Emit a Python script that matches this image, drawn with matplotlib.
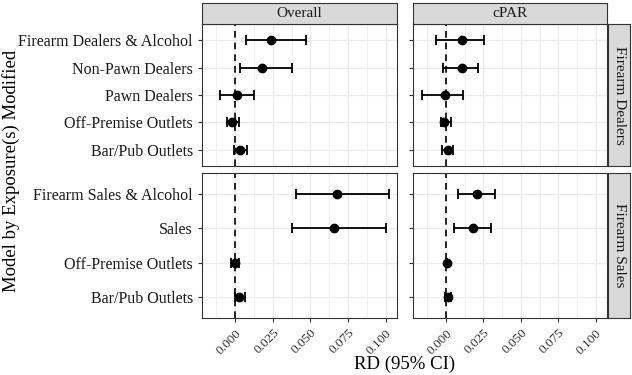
import matplotlib.pyplot as plt
import numpy as np

plt.rcParams['font.family'] = ['Liberation Serif', 'DejaVu Serif']

# rows, top panel (Firearm Dealers) listed top to bottom
dealer_labels = ["Firearm Dealers & Alcohol", "Non-Pawn Dealers", "Pawn Dealers",
                 "Off-Premise Outlets", "Bar/Pub Outlets"]
sales_labels = ["Firearm Sales & Alcohol", "Sales", "Off-Premise Outlets", "Bar/Pub Outlets"]

# Overall estimates
dealer_overall_rd = [0.0235, 0.018, 0.0012, -0.002, 0.0035]
dealer_overall_lo = [0.0075, 0.003, -0.0103, -0.0055, -0.0008]
dealer_overall_hi = [0.047, 0.0375, 0.0123, 0.0023, 0.0079]
sales_overall_rd = [0.0675, 0.0659, 0.0, 0.0025]
sales_overall_lo = [0.0403, 0.0381, -0.0025, 0.0]
sales_overall_hi = [0.1019, 0.1003, 0.0028, 0.0067]

# cPAR estimates
dealer_cpar_rd = [0.0105, 0.0105, -0.0007, -0.0011, 0.0016]
dealer_cpar_lo = [-0.0067, -0.0022, -0.016, -0.0035, -0.0027]
dealer_cpar_hi = [0.0253, 0.0216, 0.0111, 0.0033, 0.0049]
sales_cpar_rd = [0.0204, 0.0182, 0.0004, 0.0016]
sales_cpar_lo = [0.0078, 0.0056, 0.0002, -0.0004]
sales_cpar_hi = [0.0327, 0.0304, 0.0006, 0.0036]

col_titles = ["Overall", "cPAR"]
row_titles = ["Firearm Dealers", "Firearm Sales"]
xticks = [0.0, 0.025, 0.05, 0.075, 0.1]

W, H = 632, 375
fig = plt.figure(figsize=(W / 100, H / 100), dpi=100)


def px_axes(x0, y0, x1, y1):
    return fig.add_axes([x0 / W, 1 - y1 / H, (x1 - x0) / W, (y1 - y0) / H])


col_x = [(202, 397), (413, 607)]
row_y = [(24, 166), (173, 318)]

panels = {
    (0, 0): (dealer_labels, dealer_overall_rd, dealer_overall_lo, dealer_overall_hi),
    (0, 1): (dealer_labels, dealer_cpar_rd, dealer_cpar_lo, dealer_cpar_hi),
    (1, 0): (sales_labels, sales_overall_rd, sales_overall_lo, sales_overall_hi),
    (1, 1): (sales_labels, sales_cpar_rd, sales_cpar_lo, sales_cpar_hi),
}

border = '#333333'
for (r, c), (labels, rd, lo, hi) in panels.items():
    ax = px_axes(col_x[c][0], row_y[r][0], col_x[c][1], row_y[r][1])
    n = len(labels)
    ypos = np.arange(n)[::-1] + 1
    rd = np.array(rd)
    err = [rd - np.array(lo), np.array(hi) - rd]
    ax.set_xlim(-0.022, 0.1075)
    ax.set_ylim(0.4, n + 0.6)
    ax.set_xticks(xticks)
    ax.set_xticks(np.arange(-0.0125, 0.11, 0.025), minor=True)
    ax.set_yticks(ypos)
    ax.grid(True, which='major', color='#EBEBEB', lw=0.9)
    ax.grid(True, which='minor', axis='x', color='#EBEBEB', lw=0.5)
    ax.set_axisbelow(True)
    ax.axvline(0, color='black', ls=(0, (4, 3)), lw=1.2, zorder=2)
    ax.errorbar(rd, ypos, xerr=err, fmt='o', color='black', ms=6,
                capsize=3.8, elinewidth=1.3, capthick=1.3, zorder=3)
    for s in ax.spines.values():
        s.set_color(border)
        s.set_linewidth(0.8)
    ax.tick_params(axis='both', length=3, color=border, width=0.8)
    ax.tick_params(axis='x', which='minor', length=0)
    if c == 0:
        ax.set_yticklabels(labels, fontsize=11.5, color='#1A1A1A')
    else:
        ax.set_yticklabels([])
    if r == 1:
        ax.set_xticklabels(["0.000", "0.025", "0.050", "0.075", "0.100"],
                           rotation=45, ha='right', rotation_mode='anchor',
                           fontsize=9.5, color='#333333')
    else:
        ax.set_xticklabels([])
        ax.tick_params(axis='x', length=0)

# column strips
for c, title in enumerate(col_titles):
    sax = px_axes(col_x[c][0], 3, col_x[c][1], 24)
    sax.set_facecolor('#D9D9D9')
    sax.set_xticks([])
    sax.set_yticks([])
    for s in sax.spines.values():
        s.set_color(border)
        s.set_linewidth(0.8)
    sax.text(0.5, 0.5, title, ha='center', va='center', fontsize=11,
             color='#1A1A1A', transform=sax.transAxes)

# row strips
for r, title in enumerate(row_titles):
    sax = px_axes(608, row_y[r][0], 630, row_y[r][1])
    sax.set_facecolor('#D9D9D9')
    sax.set_xticks([])
    sax.set_yticks([])
    for s in sax.spines.values():
        s.set_color(border)
        s.set_linewidth(0.8)
    sax.text(0.5, 0.5, title, ha='center', va='center', fontsize=11,
             rotation=-90, color='#1A1A1A', transform=sax.transAxes)

fig.text(11 / W, 1 - 171 / H, "Model by Exposure(s) Modified", rotation=90,
         ha='center', va='center', fontsize=13.5)
fig.text(405 / W, 1 - 364 / H, "RD (95% CI)", ha='center', va='center', fontsize=13.5)

fig.savefig("out.png", dpi=100)
